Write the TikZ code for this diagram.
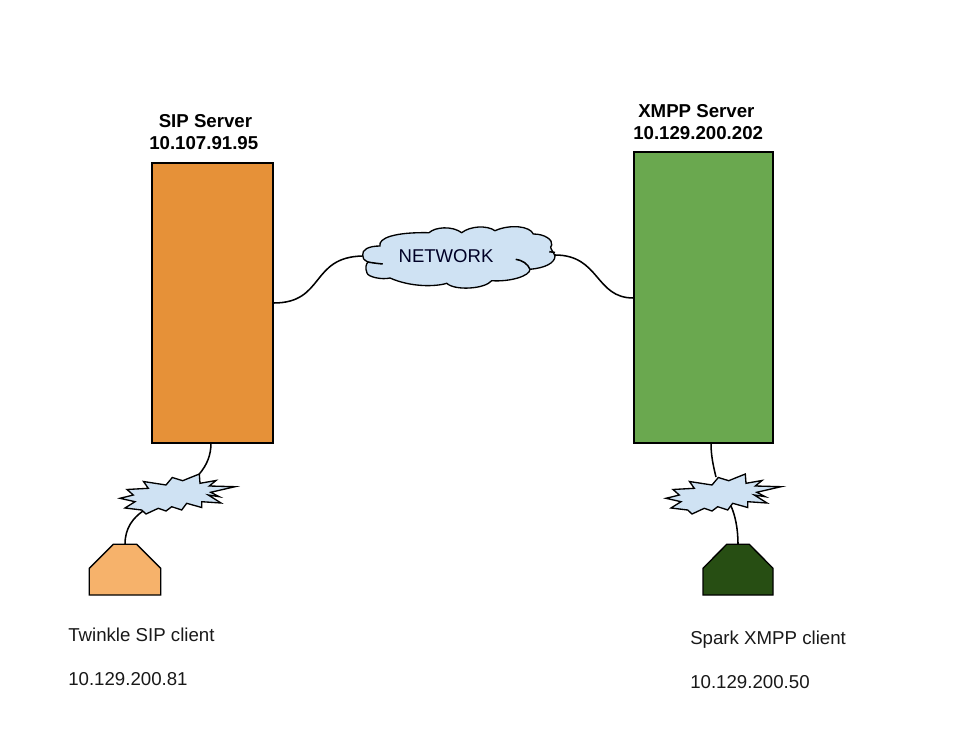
\documentclass[tikz,border=0pt]{standalone}
\usepackage{fontspec}
\setmainfont{Liberation Sans}
\definecolor{cOrange}{HTML}{E69138}
\definecolor{cGreen}{HTML}{6AA84F}
\definecolor{cLightOrange}{HTML}{F6B26B}
\definecolor{cDarkGreen}{HTML}{274E13}
\definecolor{cBlue}{HTML}{CFE2F3}
\tikzset{
  shapeline/.style={draw=black,line width=1pt,line join=miter},
  wire/.style={draw=black,line width=1.15pt},
  server/.style={shapeline,rectangle,inner sep=0pt,minimum width=#1},
  label/.style={inner sep=0pt,anchor=base west,font=\fontsize{14}{16}\selectfont,text=black!90},
  boldlabel/.style={label,font=\fontsize{14}{16}\selectfont\bfseries,text=black},
}
\newcommand{\burst}[2]{%
  \begin{scope}[shift={(#1,0)}]
  \draw[shapeline,fill=cBlue] (199.3,474) -- (200,483.3) -- (216,480.5) -- (209.3,486) -- (235,486.7) -- (210.7,492.3) -- (219.3,496.7) -- (208.3,495) -- (221,503) -- (201.7,501.7) -- (201.7,507.5) -- (186.7,503.3) -- (181.7,510) -- (171.7,506.7) -- (166,511) -- (158.3,508.3) -- (146,514) -- (141.7,510) -- (125,508) -- (135,501.7) -- (120,498.3) -- (133.3,495) -- (127,489.5) -- (148.3,488.3) -- (143.5,481.5) -- (166,485) -- (172.3,477.5) -- (182.7,480.7) -- cycle;
  \coordinate (#2 top) at (199.3,474);
  \coordinate (#2 bottom) at (143,511);
  \end{scope}}
\begin{document}
\begin{tikzpicture}[x=0.75pt,y=-0.75pt]
\useasboundingbox (0,0) rectangle (953,731);
\fill[white] (0,0) rectangle (953,731);

% servers
\node[server=90.75pt,minimum height=210pt,fill=cOrange] (sip) at (212.5,303) {};
\node[server=104.25pt,minimum height=218.25pt,fill=cGreen] (xmpp) at (703.5,297.5) {};

% network cloud
\draw[shapeline,fill=cBlue]
  (362.7,255) .. controls (362,250) and (368,246) .. (380,246)
  .. controls (378,238) and (395,232) .. (429,232.7)
  .. controls (435,227) and (452,225.5) .. (461.7,232.7)
  .. controls (470,226) and (487,225) .. (495,230.7)
  .. controls (510,224) and (530,226) .. (533.3,234)
  .. controls (545,234) and (553,240) .. (551.7,245)
  .. controls (549,248) and (552,249) .. (555,256)
  .. controls (555,263) and (545,268) .. (530,269.3)
  .. controls (530,276) and (510,282) .. (491.7,280.7)
  .. controls (485,289) and (455,291) .. (446.7,283.3)
  .. controls (435,287) and (410,287) .. (390,278)
  .. controls (382,280) and (368,277) .. (367,273)
  .. controls (365,268) and (366,264) .. (368,262)
  .. controls (364,260) and (362,258) .. (362.7,255) -- cycle;
\draw[wire] (368,262) .. controls (373,263) and (378,263.5) .. (382.7,264);
\draw[wire] (515.7,259.3) .. controls (522,260) and (528,264) .. (530,269.3);
\draw[wire] (549.3,251.7) -- (555,252.5);
\coordinate (cloud west) at (362.7,256);
\coordinate (cloud east) at (555,255);
\node[inner sep=0pt,font=\fontsize{13.9}{16}\selectfont,text=black!85!blue] (net) at (446,256) {NETWORK};

% bursts
\burst{0}{b1}
\burst{546}{b2}

% clients
\draw[shapeline,fill=cLightOrange] (89.3,568.3) -- (113.3,544.3) -- (136.7,544.3) -- (160.7,568.3) -- (160.7,595) -- (89.3,595) -- cycle;
\coordinate (c1 top) at (125,544.3);
\draw[shapeline,fill=cDarkGreen] (703,568.3) -- (726.7,544.3) -- (749.3,544.3) -- (773,568.3) -- (773,595) -- (703,595) -- cycle;
\coordinate (c2 top) at (738,544.3);

% connectors
\draw[wire] (sip.east |- 0,303) .. controls (325,303) and (310,257) .. (cloud west);
\draw[wire] (xmpp.west |- 0,298) .. controls (595,298) and (600,255) .. (cloud east);
\draw[wire] (211,443) .. controls (211,455) and (207,465) .. (b1 top);
\draw[wire] (c1 top) .. controls (125,528) and (133,518) .. (143,511);
\draw[wire] (711,443) .. controls (711,455) and (713,465) .. (716,477);
\draw[wire] (c2 top) .. controls (738,528) and (735,515) .. (731,506);

% labels
\node[boldlabel] (t1) at (158.5,128) {SIP Server};
\node[boldlabel] (t2) at (149,150) {10.107.91.95};
\node[boldlabel] (t3) at (638,117.5) {XMPP Server};
\node[boldlabel] (t4) at (633,140) {10.129.200.202};
\node[label] (t5) at (68,641) {Twinkle SIP client};
\node[label] (t6) at (68,685) {10.129.200.81};
\node[label] (t7) at (690,644) {Spark XMPP client};
\node[label] (t8) at (690,688) {10.129.200.50};
\end{tikzpicture}
\end{document}
